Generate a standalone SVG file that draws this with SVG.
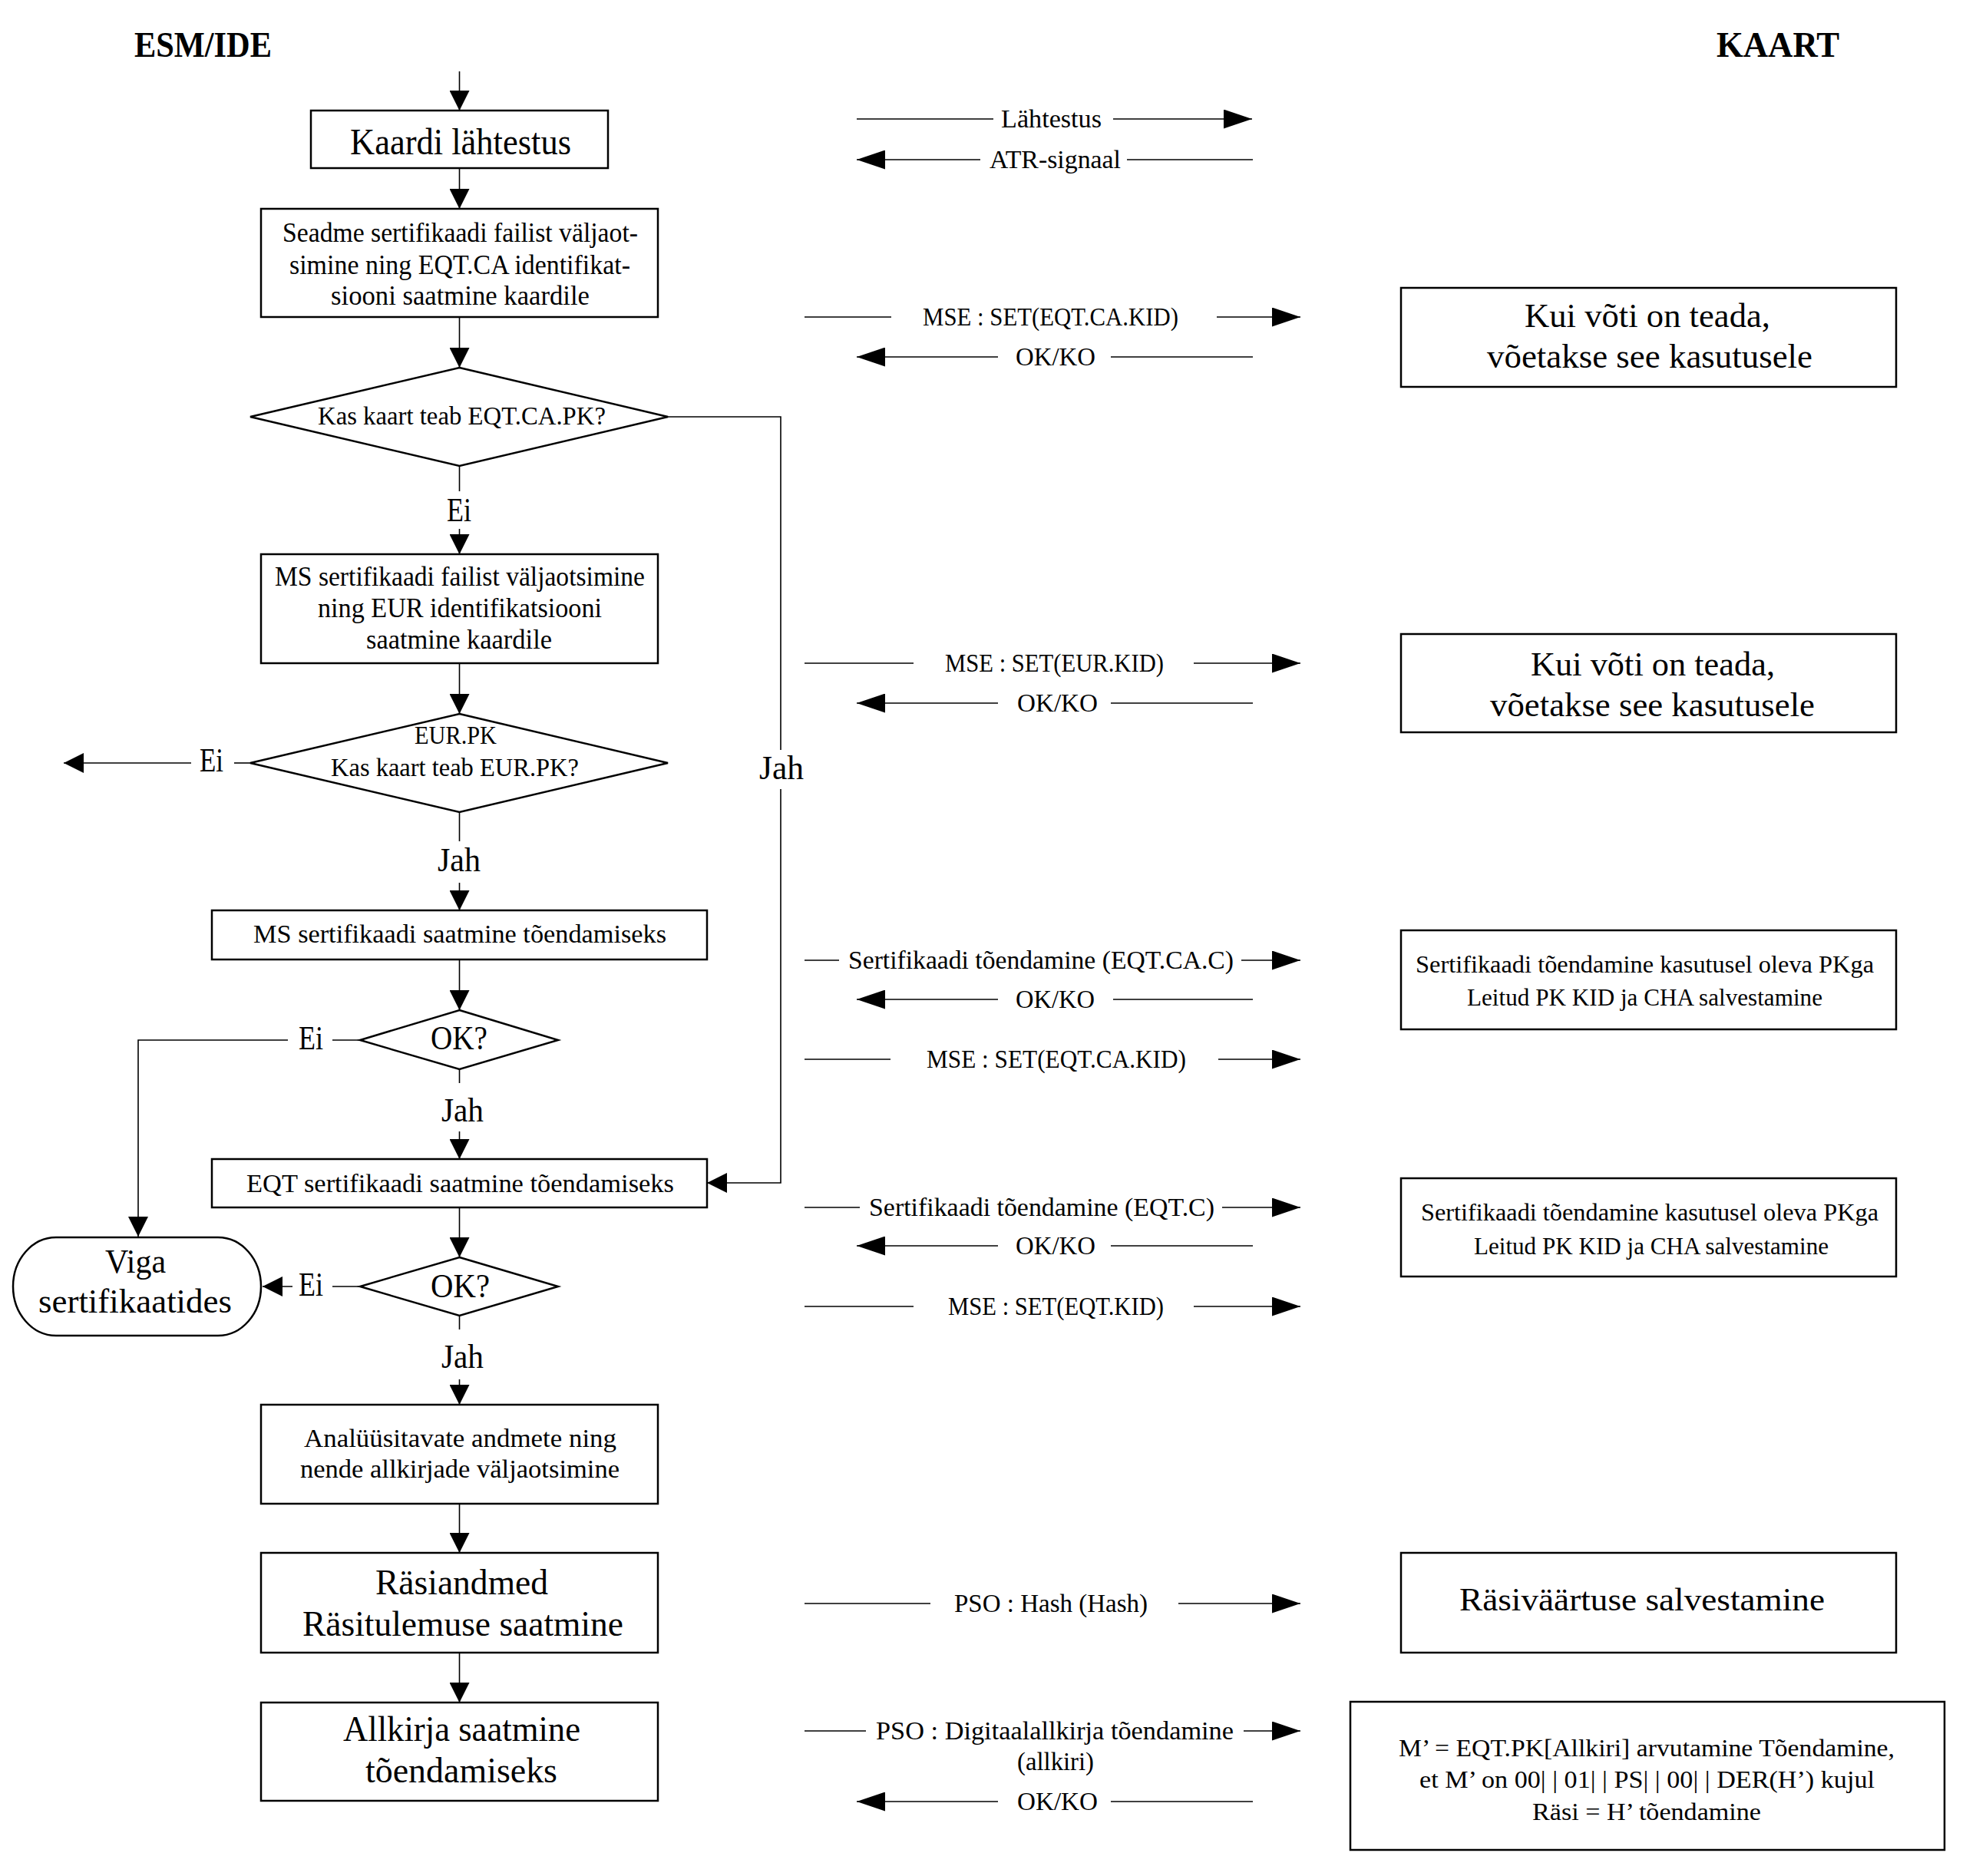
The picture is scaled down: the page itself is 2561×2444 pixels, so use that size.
<svg xmlns="http://www.w3.org/2000/svg" width="2561" height="2444" viewBox="0 0 2561 2444">
<style>
.box{fill:#fff;stroke:#000;stroke-width:2.5}
.dia{fill:#fff;stroke:#000;stroke-width:2.5}
.cn{fill:none;stroke:#000;stroke-width:1.6}
.t{font-family:"Liberation Serif","DejaVu Serif",serif;fill:#000}
.hd{font-weight:bold;font-size:46px}
.f48{font-size:48px}
.f46{font-size:46px}
.f45{font-size:45px}
.f42{font-size:42px}
.f35{font-size:35px}
.f34{font-size:34px}
.f33{font-size:33px}
.f32{font-size:32px}
.f31{font-size:31px}
</style>
<defs>
<marker id="af" markerUnits="userSpaceOnUse" viewBox="0 0 26 26" markerWidth="26" markerHeight="26" refX="26" refY="13" orient="auto"><path d="M0,0 L26,13 L0,26 z" fill="#000"/></marker>
<marker id="am" markerUnits="userSpaceOnUse" viewBox="0 0 37 25" markerWidth="37" markerHeight="25" refX="37" refY="12.5" orient="auto"><path d="M0,0 L37,12.5 L0,25 z" fill="#000"/></marker>
</defs>
<rect width="2561" height="2444" fill="#fff"/>

<g id="headers">
<text class="t hd" x="175" y="74" textLength="179" lengthAdjust="spacingAndGlyphs">ESM/IDE</text>
<text class="t hd" x="2236" y="74" textLength="160" lengthAdjust="spacingAndGlyphs">KAART</text>
</g>

<g id="connectors">
<line class="cn" x1="598.5" y1="93" x2="598.5" y2="144" marker-end="url(#af)"/>
<line class="cn" x1="598.5" y1="219" x2="598.5" y2="272" marker-end="url(#af)"/>
<line class="cn" x1="598.5" y1="413" x2="598.5" y2="479" marker-end="url(#af)"/>
<line class="cn" x1="598.5" y1="607" x2="598.5" y2="640"/>
<line class="cn" x1="598.5" y1="689" x2="598.5" y2="722" marker-end="url(#af)"/>
<line class="cn" x1="598.5" y1="864" x2="598.5" y2="930" marker-end="url(#af)"/>
<line class="cn" x1="598.5" y1="1058" x2="598.5" y2="1096"/>
<line class="cn" x1="598.5" y1="1150" x2="598.5" y2="1186" marker-end="url(#af)"/>
<line class="cn" x1="326" y1="994" x2="305" y2="994"/>
<line class="cn" x1="249" y1="994" x2="83" y2="994" marker-end="url(#af)"/>
<polyline class="cn" points="870,543 1017,543 1017,977"/>
<polyline class="cn" points="1017,1028 1017,1541 921,1541" marker-end="url(#af)"/>
<line class="cn" x1="598.5" y1="1250" x2="598.5" y2="1316" marker-end="url(#af)"/>
<line class="cn" x1="469" y1="1355" x2="433" y2="1355"/>
<polyline class="cn" points="375,1355 180,1355 180,1611" marker-end="url(#af)"/>
<line class="cn" x1="598.5" y1="1393" x2="598.5" y2="1411"/>
<line class="cn" x1="598.5" y1="1474" x2="598.5" y2="1510" marker-end="url(#af)"/>
<line class="cn" x1="598.5" y1="1573" x2="598.5" y2="1638" marker-end="url(#af)"/>
<line class="cn" x1="469" y1="1676" x2="433" y2="1676"/>
<line class="cn" x1="381" y1="1676" x2="342" y2="1676" marker-end="url(#af)"/>
<line class="cn" x1="598.5" y1="1714" x2="598.5" y2="1732"/>
<line class="cn" x1="598.5" y1="1797" x2="598.5" y2="1830" marker-end="url(#af)"/>
<line class="cn" x1="598.5" y1="1959" x2="598.5" y2="2023" marker-end="url(#af)"/>
<line class="cn" x1="598.5" y1="2153" x2="598.5" y2="2218" marker-end="url(#af)"/>

<!-- message rows -->
<line class="cn" x1="1116" y1="155" x2="1294" y2="155"/>
<line class="cn" x1="1450" y1="155" x2="1631" y2="155" marker-end="url(#am)"/>
<line class="cn" x1="1632" y1="208" x2="1468" y2="208"/>
<line class="cn" x1="1277" y1="208" x2="1116" y2="208" marker-end="url(#am)"/>
<line class="cn" x1="1048" y1="413" x2="1161" y2="413"/>
<line class="cn" x1="1585" y1="413" x2="1694" y2="413" marker-end="url(#am)"/>
<line class="cn" x1="1632" y1="465" x2="1447" y2="465"/>
<line class="cn" x1="1300" y1="465" x2="1116" y2="465" marker-end="url(#am)"/>
<line class="cn" x1="1048" y1="864" x2="1190" y2="864"/>
<line class="cn" x1="1555" y1="864" x2="1694" y2="864" marker-end="url(#am)"/>
<line class="cn" x1="1632" y1="916" x2="1447" y2="916"/>
<line class="cn" x1="1300" y1="916" x2="1116" y2="916" marker-end="url(#am)"/>
<line class="cn" x1="1048" y1="1251" x2="1093" y2="1251"/>
<line class="cn" x1="1617" y1="1251" x2="1694" y2="1251" marker-end="url(#am)"/>
<line class="cn" x1="1632" y1="1302" x2="1450" y2="1302"/>
<line class="cn" x1="1300" y1="1302" x2="1116" y2="1302" marker-end="url(#am)"/>
<line class="cn" x1="1048" y1="1380" x2="1160" y2="1380"/>
<line class="cn" x1="1587" y1="1380" x2="1694" y2="1380" marker-end="url(#am)"/>
<line class="cn" x1="1048" y1="1573" x2="1120" y2="1573"/>
<line class="cn" x1="1592" y1="1573" x2="1694" y2="1573" marker-end="url(#am)"/>
<line class="cn" x1="1632" y1="1623" x2="1447" y2="1623"/>
<line class="cn" x1="1300" y1="1623" x2="1116" y2="1623" marker-end="url(#am)"/>
<line class="cn" x1="1048" y1="1702" x2="1190" y2="1702"/>
<line class="cn" x1="1555" y1="1702" x2="1694" y2="1702" marker-end="url(#am)"/>
<line class="cn" x1="1048" y1="2089" x2="1212" y2="2089"/>
<line class="cn" x1="1535" y1="2089" x2="1694" y2="2089" marker-end="url(#am)"/>
<line class="cn" x1="1048" y1="2255" x2="1128" y2="2255"/>
<line class="cn" x1="1620" y1="2255" x2="1694" y2="2255" marker-end="url(#am)"/>
<line class="cn" x1="1632" y1="2347" x2="1447" y2="2347"/>
<line class="cn" x1="1300" y1="2347" x2="1116" y2="2347" marker-end="url(#am)"/>
</g>

<g id="connector-labels">
<text class="t f45" x="582" y="679" textLength="32" lengthAdjust="spacingAndGlyphs">Ei</text>
<text class="t f45" x="260" y="1005" textLength="31" lengthAdjust="spacingAndGlyphs">Ei</text>
<text class="t f45" x="989" y="1015" textLength="58" lengthAdjust="spacingAndGlyphs">Jah</text>
<text class="t f45" x="570" y="1135" textLength="56" lengthAdjust="spacingAndGlyphs">Jah</text>
<text class="t f45" x="389" y="1367" textLength="32" lengthAdjust="spacingAndGlyphs">Ei</text>
<text class="t f45" x="575" y="1461" textLength="55" lengthAdjust="spacingAndGlyphs">Jah</text>
<text class="t f45" x="389" y="1688" textLength="32" lengthAdjust="spacingAndGlyphs">Ei</text>
<text class="t f45" x="575" y="1782" textLength="55" lengthAdjust="spacingAndGlyphs">Jah</text>
<text class="t f33" x="1304" y="166" textLength="131" lengthAdjust="spacingAndGlyphs">Lähtestus</text>
<text class="t f33" x="1289" y="219" textLength="171" lengthAdjust="spacingAndGlyphs">ATR-signaal</text>
<text class="t f33" x="1202" y="424" textLength="333" lengthAdjust="spacingAndGlyphs">MSE : SET(EQT.CA.KID)</text>
<text class="t f33" x="1323" y="476" textLength="104" lengthAdjust="spacingAndGlyphs">OK/KO</text>
<text class="t f33" x="1231" y="875" textLength="285" lengthAdjust="spacingAndGlyphs">MSE : SET(EUR.KID)</text>
<text class="t f33" x="1325" y="927" textLength="105" lengthAdjust="spacingAndGlyphs">OK/KO</text>
<text class="t f33" x="1105" y="1262" textLength="502" lengthAdjust="spacingAndGlyphs">Sertifikaadi tõendamine (EQT.CA.C)</text>
<text class="t f33" x="1323" y="1313" textLength="103" lengthAdjust="spacingAndGlyphs">OK/KO</text>
<text class="t f33" x="1207" y="1391" textLength="338" lengthAdjust="spacingAndGlyphs">MSE : SET(EQT.CA.KID)</text>
<text class="t f33" x="1132" y="1584" textLength="450" lengthAdjust="spacingAndGlyphs">Sertifikaadi tõendamine (EQT.C)</text>
<text class="t f33" x="1323" y="1634" textLength="104" lengthAdjust="spacingAndGlyphs">OK/KO</text>
<text class="t f33" x="1235" y="1713" textLength="281" lengthAdjust="spacingAndGlyphs">MSE : SET(EQT.KID)</text>
<text class="t f33" x="1243" y="2100" textLength="252" lengthAdjust="spacingAndGlyphs">PSO : Hash (Hash)</text>
<text class="t f33" x="1141" y="2266" textLength="466" lengthAdjust="spacingAndGlyphs">PSO : Digitaalallkirja tõendamine</text>
<text class="t f33" x="1325" y="2306" textLength="100" lengthAdjust="spacingAndGlyphs">(allkiri)</text>
<text class="t f33" x="1325" y="2358" textLength="105" lengthAdjust="spacingAndGlyphs">OK/KO</text>
</g>

<g id="n-reset">
<rect class="box" x="405" y="144" width="387" height="75"/>
<text class="t f48" x="456" y="201" textLength="288" lengthAdjust="spacingAndGlyphs">Kaardi lähtestus</text>
</g>
<g id="n-eqtca-send">
<rect class="box" x="340" y="272" width="517" height="141"/>
<text class="t f35" x="368" y="315" textLength="463" lengthAdjust="spacingAndGlyphs">Seadme sertifikaadi failist väljaot-</text>
<text class="t f35" x="377" y="357" textLength="444" lengthAdjust="spacingAndGlyphs">simine ning EQT.CA identifikat-</text>
<text class="t f35" x="431" y="397" textLength="337" lengthAdjust="spacingAndGlyphs">siooni saatmine kaardile</text>
</g>
<g id="n-dec-eqtca">
<polygon class="dia" points="598.5,479 870,543 598.5,607 326,543"/>
<text class="t f34" x="414" y="553" textLength="375" lengthAdjust="spacingAndGlyphs">Kas kaart teab EQT.CA.PK?</text>
</g>
<g id="n-eur-send">
<rect class="box" x="340" y="722" width="517" height="142"/>
<text class="t f35" x="358" y="763" textLength="482" lengthAdjust="spacingAndGlyphs">MS sertifikaadi failist väljaotsimine</text>
<text class="t f35" x="414" y="804" textLength="370" lengthAdjust="spacingAndGlyphs">ning EUR identifikatsiooni</text>
<text class="t f35" x="477" y="845" textLength="242" lengthAdjust="spacingAndGlyphs">saatmine kaardile</text>
</g>
<g id="n-dec-eur">
<polygon class="dia" points="598.5,930 870,994 598.5,1058 326,994"/>
<text class="t f33" x="540" y="969" textLength="107" lengthAdjust="spacingAndGlyphs">EUR.PK</text>
<text class="t f34" x="431" y="1011" textLength="323" lengthAdjust="spacingAndGlyphs">Kas kaart teab EUR.PK?</text>
</g>
<g id="n-ms-cert">
<rect class="box" x="276" y="1186" width="645" height="64"/>
<text class="t f34" x="330" y="1228" textLength="538" lengthAdjust="spacingAndGlyphs">MS sertifikaadi saatmine tõendamiseks</text>
</g>
<g id="n-ok1">
<polygon class="dia" points="598.5,1316 727,1355 598.5,1393 469,1355"/>
<text class="t f45" x="561" y="1367" textLength="74" lengthAdjust="spacingAndGlyphs">OK?</text>
</g>
<g id="n-eqt-cert">
<rect class="box" x="276" y="1510" width="645" height="63"/>
<text class="t f34" x="321" y="1553" textLength="557" lengthAdjust="spacingAndGlyphs">EQT sertifikaadi saatmine tõendamiseks</text>
</g>
<g id="n-ok2">
<polygon class="dia" points="598.5,1638 727,1676 598.5,1714 469,1676"/>
<text class="t f45" x="561" y="1690" textLength="77" lengthAdjust="spacingAndGlyphs">OK?</text>
</g>
<g id="n-error">
<rect class="box" x="17" y="1612" width="323" height="128" rx="56" ry="64"/>
<text class="t f45" x="137" y="1658" textLength="79" lengthAdjust="spacingAndGlyphs">Viga</text>
<text class="t f45" x="50" y="1710" textLength="252" lengthAdjust="spacingAndGlyphs">sertifikaatides</text>
</g>
<g id="n-analyse">
<rect class="box" x="340" y="1830" width="517" height="129"/>
<text class="t f34" x="396" y="1885" textLength="407" lengthAdjust="spacingAndGlyphs">Analüüsitavate andmete ning</text>
<text class="t f34" x="391" y="1925" textLength="416" lengthAdjust="spacingAndGlyphs">nende allkirjade väljaotsimine</text>
</g>
<g id="n-hash">
<rect class="box" x="340" y="2023" width="517" height="130"/>
<text class="t f46" x="489" y="2077" textLength="225" lengthAdjust="spacingAndGlyphs">Räsiandmed</text>
<text class="t f46" x="394" y="2131" textLength="418" lengthAdjust="spacingAndGlyphs">Räsitulemuse saatmine</text>
</g>
<g id="n-sign">
<rect class="box" x="340" y="2218" width="517" height="128"/>
<text class="t f46" x="447" y="2268" textLength="309" lengthAdjust="spacingAndGlyphs">Allkirja saatmine</text>
<text class="t f46" x="476" y="2322" textLength="250" lengthAdjust="spacingAndGlyphs">tõendamiseks</text>
</g>

<g id="c-key1">
<rect class="box" x="1825" y="375" width="645" height="129"/>
<text class="t f45" x="1986" y="426" textLength="320" lengthAdjust="spacingAndGlyphs">Kui võti on teada,</text>
<text class="t f45" x="1937" y="479" textLength="424" lengthAdjust="spacingAndGlyphs">võetakse see kasutusele</text>
</g>
<g id="c-key2">
<rect class="box" x="1825" y="826" width="645" height="128"/>
<text class="t f45" x="1994" y="880" textLength="318" lengthAdjust="spacingAndGlyphs">Kui võti on teada,</text>
<text class="t f45" x="1941" y="933" textLength="423" lengthAdjust="spacingAndGlyphs">võetakse see kasutusele</text>
</g>
<g id="c-verify1">
<rect class="box" x="1825" y="1212" width="645" height="129"/>
<text class="t f32" x="1844" y="1267" textLength="597" lengthAdjust="spacingAndGlyphs">Sertifikaadi tõendamine kasutusel oleva PKga</text>
<text class="t f32" x="1911" y="1310" textLength="463" lengthAdjust="spacingAndGlyphs">Leitud PK KID ja CHA salvestamine</text>
</g>
<g id="c-verify2">
<rect class="box" x="1825" y="1535" width="645" height="128"/>
<text class="t f32" x="1851" y="1590" textLength="596" lengthAdjust="spacingAndGlyphs">Sertifikaadi tõendamine kasutusel oleva PKga</text>
<text class="t f32" x="1920" y="1634" textLength="462" lengthAdjust="spacingAndGlyphs">Leitud PK KID ja CHA salvestamine</text>
</g>
<g id="c-hashstore">
<rect class="box" x="1825" y="2023" width="645" height="130"/>
<text class="t f42" x="1901" y="2098" textLength="476" lengthAdjust="spacingAndGlyphs">Räsiväärtuse salvestamine</text>
</g>
<g id="c-sigverify">
<rect class="box" x="1759" y="2217" width="774" height="193"/>
<text class="t f31" x="1822" y="2288" textLength="646" lengthAdjust="spacingAndGlyphs">M’ = EQT.PK[Allkiri] arvutamine Tõendamine,</text>
<text class="t f31" x="1849" y="2329" textLength="593" lengthAdjust="spacingAndGlyphs">et M’ on 00| | 01| | PS| | 00| | DER(H’) kujul</text>
<text class="t f31" x="1996" y="2371" textLength="298" lengthAdjust="spacingAndGlyphs">Räsi = H’ tõendamine</text>
</g>
</svg>
